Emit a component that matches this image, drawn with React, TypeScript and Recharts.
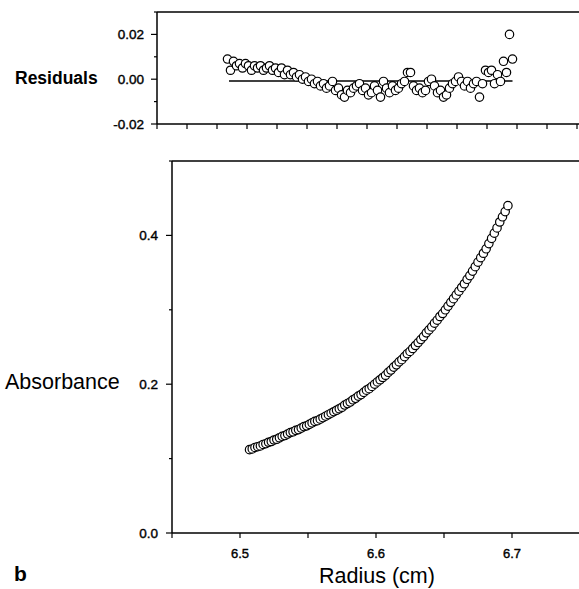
import React from "react";
import { ComposedChart, Scatter, Line, XAxis, YAxis, ReferenceLine } from "recharts";

// radius (cm) of each scan point, shared by both panels
const radius = [
  6.507, 6.509, 6.511, 6.513, 6.515, 6.517, 6.519, 6.521, 6.523, 6.525,
  6.527, 6.529, 6.531, 6.533, 6.535, 6.537, 6.539, 6.541, 6.543, 6.545,
  6.547, 6.549, 6.551, 6.553, 6.555, 6.557, 6.559, 6.561, 6.563, 6.565,
  6.567, 6.569, 6.571, 6.573, 6.575, 6.577, 6.579, 6.581, 6.583, 6.585,
  6.587, 6.589, 6.591, 6.593, 6.595, 6.597, 6.599, 6.601, 6.603, 6.605,
  6.607, 6.609, 6.611, 6.613, 6.615, 6.617, 6.619, 6.621, 6.623, 6.625,
  6.627, 6.629, 6.631, 6.633, 6.635, 6.637, 6.639, 6.641, 6.643, 6.645,
  6.647, 6.649, 6.651, 6.653, 6.655, 6.657, 6.659, 6.661, 6.663, 6.665,
  6.667, 6.669, 6.671, 6.673, 6.675, 6.677, 6.679, 6.681, 6.683, 6.685,
  6.687, 6.689, 6.691, 6.693, 6.695, 6.697,
];

const absorbance = [
  0.112, 0.113, 0.115, 0.116, 0.117, 0.119, 0.120, 0.122, 0.123, 0.125,
  0.126, 0.128, 0.130, 0.131, 0.133, 0.135, 0.136, 0.138, 0.139, 0.141,
  0.143, 0.144, 0.146, 0.148, 0.150, 0.151, 0.153, 0.155, 0.157, 0.159,
  0.161, 0.163, 0.165, 0.167, 0.169, 0.172, 0.174, 0.176, 0.179, 0.181,
  0.184, 0.186, 0.189, 0.192, 0.194, 0.197, 0.200, 0.203, 0.206, 0.209,
  0.212, 0.216, 0.219, 0.223, 0.226, 0.230, 0.233, 0.237, 0.241, 0.244,
  0.248, 0.252, 0.256, 0.260, 0.264, 0.269, 0.273, 0.277, 0.282, 0.286,
  0.291, 0.295, 0.300, 0.305, 0.310, 0.315, 0.320, 0.325, 0.330, 0.335,
  0.341, 0.346, 0.352, 0.358, 0.364, 0.370, 0.376, 0.382, 0.389, 0.396,
  0.403, 0.410, 0.418, 0.425, 0.432, 0.440,
];

const residual = [
  0.009, 0.004, 0.008, 0.006, 0.007, 0.005, 0.007, 0.006, 0.004, 0.006,
  0.005, 0.006, 0.004, 0.005, 0.006, 0.004, 0.005, 0.003, 0.005, 0.002,
  0.004, 0.002, 0.003, 0.001, 0.002, 0.0, 0.001, -0.001, 0.0, -0.002,
  -0.001, -0.003, -0.002, -0.004, -0.003, -0.001, -0.005, -0.004, -0.007, -0.008,
  -0.005, -0.006, -0.004, -0.003, -0.002, -0.005, -0.004, -0.007, -0.006, -0.003,
  -0.005, -0.008, -0.001, -0.004, -0.006, -0.003, -0.005, -0.004, -0.002, -0.001,
  0.003, 0.003, -0.003, -0.005, -0.004, -0.006, -0.005, -0.001, 0.0, -0.003,
  -0.006, -0.005, -0.008, -0.007, -0.004, -0.002, -0.001, 0.001, -0.001, -0.003,
  -0.001, -0.004, -0.002, -0.001, -0.008, -0.002, 0.004, 0.003, 0.004, -0.002,
  0.002, -0.001, 0.008, 0.003, 0.02, 0.009,
];

// zero line of the residual panel
const fitRadius = [6.508, 6.697];
const fitResidual = [-0.0008, -0.0008];

const xTicksTop = [6.46, 6.48, 6.5, 6.52, 6.54, 6.56, 6.58, 6.6, 6.62, 6.64, 6.66, 6.68, 6.7, 6.72, 6.74, 6.76];
const xTicksBottom = [6.45, 6.5, 6.55, 6.6, 6.65, 6.7, 6.75];
const xLabels = [6.5, 6.6, 6.7];
const resTicks = [-0.02, -0.01, 0, 0.01, 0.02, 0.03];
const resLabels = [-0.02, 0, 0.02];
const absTicks = [0, 0.1, 0.2, 0.3, 0.4, 0.5];
const absLabels = [0, 0.2, 0.4];

const FONT = "'Liberation Sans', Arial, sans-serif";

const mainData = radius.map((r, i) => ({ r, a: absorbance[i] }));
const resData = radius.map((r, i) => ({ r, e: residual[i] }));
const fitData = fitRadius.map((r, i) => ({ r, e: fitResidual[i] }));

const near = (list: number[], v: number) => list.some((t) => Math.abs(t - v) < 1e-6);

const circle = (p: any) => (
  <circle cx={p.cx} cy={p.cy} r={4.2} fill="#fff" stroke="#000" strokeWidth={1.2} />
);

function XTick({ x, y, payload, labels }: any) {
  const v = payload.value;
  return (
    <g>
      <line x1={x} x2={x} y1={y} y2={y + 5} stroke="#000" strokeWidth={1.2} />
      {labels && near(labels, v) && (
        <text x={x} y={y + 25} textAnchor="middle" fontSize={13} fontFamily={FONT} fill="#000" stroke="#000" strokeWidth={0.4}>
          {v.toFixed(1)}
        </text>
      )}
    </g>
  );
}

function YTick({ x, y, payload, labels, digits, gap }: any) {
  const v = payload.value;
  const lab = near(labels, v);
  return (
    <g>
      <line x1={x - (lab ? 6 : 3)} x2={x} y1={y} y2={y} stroke="#000" strokeWidth={1.2} />
      {lab && (
        <text x={x - gap} y={y + 4.5} textAnchor="end" fontSize={13.5} fontFamily={FONT} fill="#000" stroke="#000" strokeWidth={0.4}>
          {v.toFixed(digits)}
        </text>
      )}
    </g>
  );
}

const label = (style: React.CSSProperties): React.CSSProperties => ({
  position: "absolute",
  fontFamily: FONT,
  color: "#000",
  lineHeight: 1,
  whiteSpace: "nowrap",
  ...style,
});

export default function App() {
  return (
    <div style={{ position: "fixed", left: 0, top: 0, width: 579, height: 589, overflow: "hidden", background: "#fff" }}>
      {/* residual panel */}
      <div style={{ position: "absolute", left: 0, top: 0 }}>
        <ComposedChart width={608} height={150} margin={{ top: 12, right: 1, left: 97, bottom: 6 }}>
          <XAxis
            dataKey="r"
            type="number"
            domain={[6.46, 6.76]}
            ticks={xTicksTop}
            interval={0}
            height={20}
            tickSize={0}
            tickMargin={0}
            tickLine={false}
            axisLine={{ stroke: "#000", strokeWidth: 1.5 }}
            tick={<XTick />}
            allowDataOverflow
          />
          <YAxis
            dataKey="e"
            type="number"
            domain={[-0.02, 0.03]}
            ticks={resTicks}
            interval={0}
            width={60}
            tickSize={0}
            tickMargin={0}
            tickLine={false}
            axisLine={{ stroke: "#000", strokeWidth: 1.5 }}
            tick={<YTick labels={resLabels} digits={2} gap={13} />}
            allowDataOverflow
          />
          <ReferenceLine y={0.03} stroke="#000" strokeWidth={1.5} />
          <Line
            data={fitData}
            dataKey="e"
            type="linear"
            stroke="#000"
            strokeWidth={1.3}
            dot={false}
            isAnimationActive={false}
          />
          <Scatter data={resData} dataKey="e" shape={circle} isAnimationActive={false} />
        </ComposedChart>
      </div>

      {/* absorbance panel */}
      <div style={{ position: "absolute", left: 0, top: 140 }}>
        <ComposedChart width={581} height={449} margin={{ top: 21, right: 1, left: 112, bottom: 36 }}>
          <XAxis
            dataKey="r"
            type="number"
            domain={[6.45, 6.75]}
            ticks={xTicksBottom}
            interval={0}
            height={20}
            tickSize={0}
            tickMargin={0}
            tickLine={false}
            axisLine={{ stroke: "#000", strokeWidth: 1.5 }}
            tick={<XTick labels={xLabels} />}
            allowDataOverflow
          />
          <YAxis
            dataKey="a"
            type="number"
            domain={[0, 0.5]}
            ticks={absTicks}
            interval={0}
            width={60}
            tickSize={0}
            tickMargin={0}
            tickLine={false}
            axisLine={{ stroke: "#000", strokeWidth: 1.5 }}
            tick={<YTick labels={absLabels} digits={1} gap={14} />}
            allowDataOverflow
          />
          <ReferenceLine y={0.5} stroke="#000" strokeWidth={1.5} />
          <Scatter data={mainData} dataKey="a" shape={circle} isAnimationActive={false} />
        </ComposedChart>
      </div>

      <div style={label({ left: 15, top: 70, fontSize: 17.5, fontWeight: "bold" })}>Residuals</div>
      <div style={label({ left: 5, top: 372, fontSize: 21.5 })}>Absorbance</div>
      <div style={label({ left: 14, top: 563, fontSize: 21, fontWeight: "bold" })}>b</div>
      <div style={label({ left: 377, top: 566, fontSize: 21.5, transform: "translateX(-50%)" })}>Radius (cm)</div>
    </div>
  );
}
